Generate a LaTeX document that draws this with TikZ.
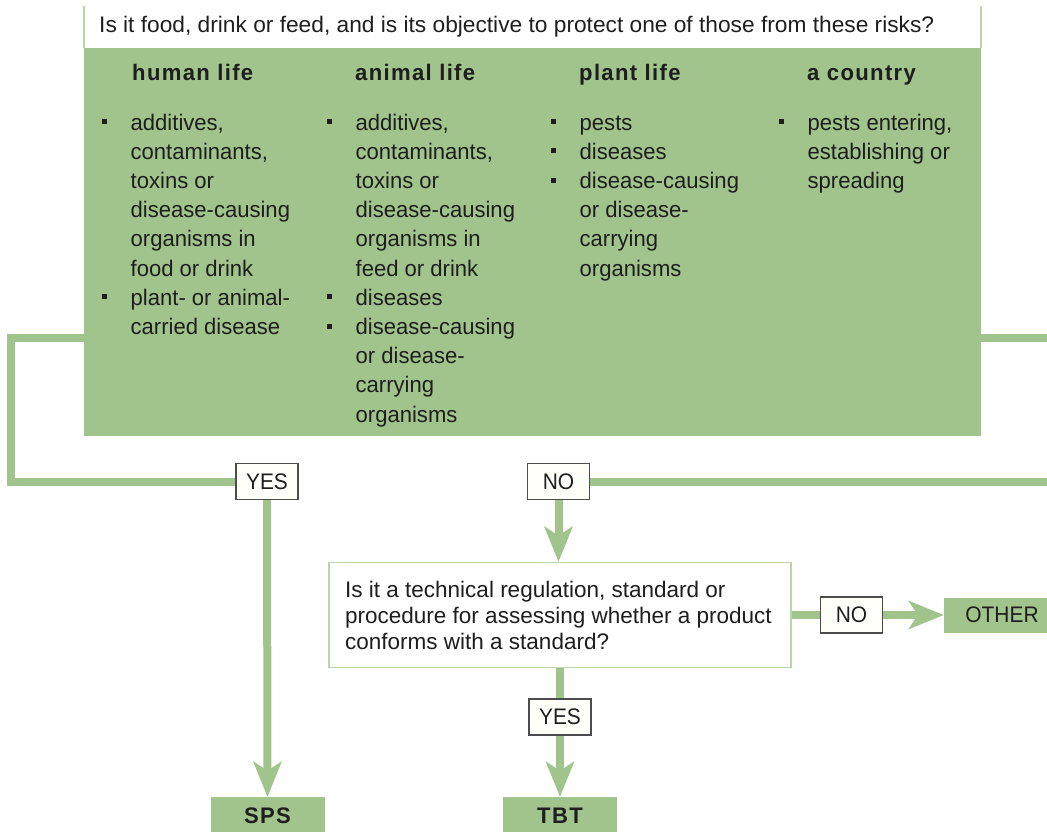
\documentclass[tikz,border=0pt]{standalone}
\usepackage{fontspec}
\setmainfont{Liberation Sans}[FakeStretch=0.98]
\newfontfamily\hdfont{Liberation Sans}[FakeStretch=0.98,LetterSpace=6]
\newfontfamily\topfont{Liberation Sans}[FakeStretch=1.01]
\newfontfamily\qfont{Liberation Sans}[FakeStretch=1.0]
\newfontfamily\lblfont{Liberation Sans}[FakeStretch=0.93]
\usetikzlibrary{arrows.meta}
\definecolor{gr}{RGB}{160,196,139}
\definecolor{grline}{RGB}{185,214,170}
\definecolor{txt}{RGB}{30,30,30}
\definecolor{ivory}{RGB}{255,255,250}
\newcommand\mainsz{\fontsize{22.5}{29.2}\selectfont}
\newcommand\qsz{\fontsize{22.5}{26}\selectfont}
\newcommand\bul{\makebox[29pt][l]{\rule[5.8pt]{5pt}{5pt}}}
\tikzset{
  conn/.style={draw=gr, line width=8pt},
  arr/.style={conn, -{Stealth[length=35pt,width=28pt,inset=9pt]}},
  lbl/.style={draw=black!70, fill=ivory, line width=1.2pt, minimum width=62pt, minimum height=36pt, inner sep=0pt, font=\lblfont\mainsz, text=txt},
  res/.style={fill=gr, minimum width=114pt, minimum height=38pt, inner sep=0pt, text=txt},
  hd/.style={anchor=base west, inner sep=0pt, font=\hdfont\mainsz\bfseries, text=txt},
  col/.style={anchor=base west, inner sep=0pt, font=\mainsz, text=txt},
}
\begin{document}
\begin{tikzpicture}[x=1pt,y=-1pt]
\useasboundingbox (0,0) rectangle (1047,831);
\clip (0,0) rectangle (1047,831);
% green panel
\node[fill=gr, minimum width=897pt, minimum height=388pt, inner sep=0pt] (gbox) at (532.5,242) {};
% top question (white strip)
\node[col, font=\topfont\mainsz] (q1) at (99,32) {Is it food, drink or feed, and is its objective to protect one of those from these risks?};
\coordinate (tl1) at (84,6);
\coordinate (tr1) at (981,6);
\draw[grline, line width=1.5pt] (tl1) -- (tl1 |- gbox.north);
\draw[grline, line width=1.5pt] (tr1) -- (tr1 |- gbox.north);
% headers
\node[hd] (h1) at (132,80) {human life};
\node[hd] (h2) at (355,80) {animal life};
\node[hd] (h3) at (579,80) {plant life};
\node[hd] (h4) at (807,80) {a country};
% columns
\node[col] (c1) at (101.5,130) {\begin{tabular}[t]{@{}l@{}l@{}}
\bul & additives,\\
 & contaminants,\\
 & toxins or\\
 & disease-causing\\
 & organisms in\\
 & food or drink\\
\bul & plant- or animal-\\
 & carried disease
\end{tabular}};
\node[col] (c2) at (326.5,130) {\begin{tabular}[t]{@{}l@{}l@{}}
\bul & additives,\\
 & contaminants,\\
 & toxins or\\
 & disease-causing\\
 & organisms in\\
 & feed or drink\\
\bul & diseases\\
\bul & disease-causing\\
 & or disease-\\
 & carrying\\
 & organisms
\end{tabular}};
\node[col] (c3) at (550.5,130) {\begin{tabular}[t]{@{}l@{}l@{}}
\bul & pests\\
\bul & diseases\\
\bul & disease-causing\\
 & or disease-\\
 & carrying\\
 & organisms
\end{tabular}};
\node[col] (c4) at (778.5,130) {\begin{tabular}[t]{@{}l@{}l@{}}
\bul & pests entering,\\
 & establishing or\\
 & spreading
\end{tabular}};
% decision labels and boxes
\node[lbl] (yes1) at (267,481.5) {YES};
\node[lbl] (no1) at (558.5,481.5) {NO};
\node[draw=grline, line width=1.5pt, fill=white, minimum width=462pt, minimum height=105pt, inner sep=0pt] (q2) at (560,615) {};
\node[anchor=base west, inner sep=0pt, font=\qfont\qsz, text=txt] (q2t) at (345,597) {\begin{tabular}[t]{@{}l@{}}
Is it a technical regulation, standard or\\
procedure for assessing whether a product\\
conforms with a standard?
\end{tabular}};
\node[lbl] (no2) at (851.5,615) {NO};
\node[lbl] (yes2) at (560,717) {YES};
\node[res, font=\hdfont\mainsz\bfseries] (sps) at (267.5,816) {SPS};
\node[res, font=\hdfont\mainsz\bfseries] (tbt) at (560,816) {TBT};
\node[res, minimum width=116pt, minimum height=35pt, font=\lblfont\mainsz] (other) at (1002,615) {OTHER};
% connectors
\coordinate (gl) at (84,338);
\coordinate (grt) at (981,338);
\draw[conn] (gl) -- ++(-73,0) |- (yes1.west);
\draw[conn] (grt) -- ++(100,0) |- (no1.east);
\draw[arr] (yes1.south) -- (sps.north);
\draw[arr] (no1.south) -- (no1.south |- q2.north);
\draw[conn] (q2.east) -- (no2.west);
\draw[arr] (no2.east) -- (other.west);
\draw[conn] (q2.south) -- (yes2.north);
\draw[arr] (yes2.south) -- (tbt.north);
\end{tikzpicture}
\end{document}
